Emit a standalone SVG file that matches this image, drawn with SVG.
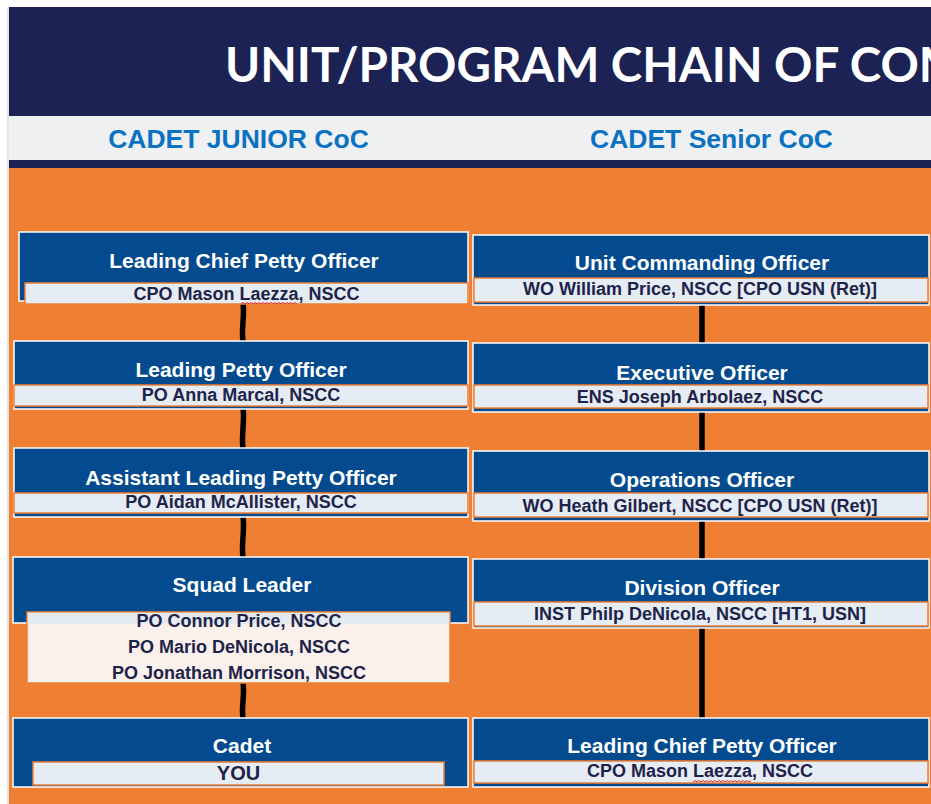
<svg xmlns="http://www.w3.org/2000/svg" width="931" height="804" viewBox="0 0 931 804">
<style>
.box{fill:#034A8E;stroke:#FFFFFF;stroke-width:1.5}
.bar{fill:#E6ECF4;stroke:#EE7F33;stroke-width:1.5}
.ttl{font-family:"Liberation Sans",Arial,sans-serif;font-weight:bold;font-size:21px;fill:#FFFFFF;text-anchor:middle}
.nm{font-family:"Liberation Sans",Arial,sans-serif;font-weight:bold;font-size:18px;fill:#1E2349;text-anchor:middle}
.sub{font-family:"Liberation Sans",Arial,sans-serif;font-weight:bold;font-size:26.5px;fill:#0B72C1;text-anchor:middle}
.con{fill:none;stroke:#000000;stroke-width:5.5}
.sq{fill:none;stroke:#E03030;stroke-width:1}
</style>
<rect x="0" y="0" width="931" height="804" fill="#FFFFFF"/>
<line x1="8" y1="7" x2="8" y2="804" stroke="#C8C8C8" stroke-width="1"/>
<rect x="9" y="7" width="922" height="109" fill="#1C2253"/>
<rect x="9" y="116" width="922" height="44" fill="#EFF0F2"/>
<rect x="9" y="160" width="922" height="8" fill="#1C2253"/>
<rect x="9" y="168" width="922" height="636" fill="#EE7F33"/>
<text x="225" y="82" font-family="Lato,'Open Sans',sans-serif" font-weight="bold" font-size="47.5" fill="#FFFFFF">UNIT/PROGRAM CHAIN OF COM</text>
<text class="sub" x="238.5" y="148">CADET JUNIOR CoC</text>
<text class="sub" x="711.5" y="148">CADET Senior CoC</text>

<g id="connectors">
<path class="con" d="M243,304 C245,315 241,328 243,341"/>
<path class="con" d="M243,409 C245,420 241,436 243,448"/>
<path class="con" d="M243,517 C245,530 241,545 243,557"/>
<path class="con" d="M243,683 C245,695 241,707 243,718"/>
<line class="con" x1="702" y1="305" x2="702" y2="343"/>
<line class="con" x1="702" y1="412" x2="702" y2="451"/>
<line class="con" x1="702" y1="521" x2="702" y2="559"/>
<line class="con" x1="702" y1="628" x2="702" y2="718"/>
</g>

<g id="j-lcpo">
<rect class="box" x="19" y="232" width="449" height="69"/>
<rect class="bar" x="25" y="283" width="443" height="21"/>
<text class="ttl" x="244" y="268">Leading Chief Petty Officer</text>
<text class="nm" x="246.5" y="300">CPO Mason Laezza, NSCC</text>
<path class="sq" d="M241,304 l2,-1.5 l2,1.5 l2,-1.5 l2,1.5 l2,-1.5 l2,1.5 l2,-1.5 l2,1.5 l2,-1.5 l2,1.5 l2,-1.5 l2,1.5 l2,-1.5 l2,1.5 l2,-1.5 l2,1.5 l2,-1.5 l2,1.5 l2,-1.5 l2,1.5 l2,-1.5 l2,1.5 l2,-1.5 l2,1.5 l2,-1.5 l2,1.5 l2,-1.5 l2,1.5"/>
</g>

<g id="j-lpo">
<rect class="box" x="14" y="341" width="454" height="68"/>
<rect class="bar" x="14" y="385" width="454" height="21"/>
<text class="ttl" x="241" y="377">Leading Petty Officer</text>
<text class="nm" x="241" y="401">PO Anna Marcal, NSCC</text>
</g>

<g id="j-alpo">
<rect class="box" x="14" y="448" width="454" height="69"/>
<rect class="bar" x="14" y="493" width="454" height="20"/>
<text class="ttl" x="241" y="485">Assistant Leading Petty Officer</text>
<text class="nm" x="241" y="508">PO Aidan McAllister, NSCC</text>
</g>

<g id="j-squad">
<rect class="box" x="13" y="557" width="455" height="66"/>
<rect x="27" y="612" width="423" height="71" fill="#FBF1EC" stroke="#EE7F33" stroke-width="1.5"/>
<rect x="27.8" y="612.8" width="421.4" height="11" fill="#E4EAF2"/>
<text class="ttl" x="242" y="592">Squad Leader</text>
<text class="nm" x="239" y="627">PO Connor Price, NSCC</text>
<text class="nm" x="239" y="653">PO Mario DeNicola, NSCC</text>
<text class="nm" x="239" y="679">PO Jonathan Morrison, NSCC</text>
</g>

<g id="j-cadet">
<rect class="box" x="13" y="718" width="455" height="69"/>
<rect class="bar" x="33" y="762" width="411" height="23"/>
<text class="ttl" x="242" y="753">Cadet</text>
<text class="nm" x="238.5" y="780" style="font-size:20px">YOU</text>
</g>

<g id="s-uco">
<rect class="box" x="473" y="235" width="456" height="70"/>
<rect class="bar" x="474" y="278" width="454" height="24"/>
<text class="ttl" x="702" y="270">Unit Commanding Officer</text>
<text class="nm" x="700" y="295">WO William Price, NSCC [CPO USN (Ret)]</text>
</g>

<g id="s-xo">
<rect class="box" x="473" y="343" width="456" height="69"/>
<rect class="bar" x="474" y="385" width="454" height="23"/>
<text class="ttl" x="702" y="380">Executive Officer</text>
<text class="nm" x="700" y="403">ENS Joseph Arbolaez, NSCC</text>
</g>

<g id="s-ops">
<rect class="box" x="473" y="451" width="456" height="70"/>
<rect class="bar" x="474" y="493" width="454" height="24"/>
<text class="ttl" x="702" y="487">Operations Officer</text>
<text class="nm" x="700" y="512">WO Heath Gilbert, NSCC [CPO USN (Ret)]</text>
</g>

<g id="s-divo">
<rect class="box" x="473" y="559" width="456" height="69"/>
<rect class="bar" x="474" y="602" width="454" height="24"/>
<text class="ttl" x="702" y="595">Division Officer</text>
<text class="nm" x="700" y="620">INST Philp DeNicola, NSCC [HT1, USN]</text>
</g>

<g id="s-lcpo">
<rect class="box" x="473" y="718" width="456" height="69"/>
<rect class="bar" x="474" y="761" width="454" height="22"/>
<text class="ttl" x="702" y="753">Leading Chief Petty Officer</text>
<text class="nm" x="700" y="777">CPO Mason Laezza, NSCC</text>
<path class="sq" d="M693,782 l2,-1.5 l2,1.5 l2,-1.5 l2,1.5 l2,-1.5 l2,1.5 l2,-1.5 l2,1.5 l2,-1.5 l2,1.5 l2,-1.5 l2,1.5 l2,-1.5 l2,1.5 l2,-1.5 l2,1.5 l2,-1.5 l2,1.5 l2,-1.5 l2,1.5 l2,-1.5 l2,1.5 l2,-1.5 l2,1.5 l2,-1.5 l2,1.5 l2,-1.5 l2,1.5 l2,-1.5"/>
</g>
</svg>
